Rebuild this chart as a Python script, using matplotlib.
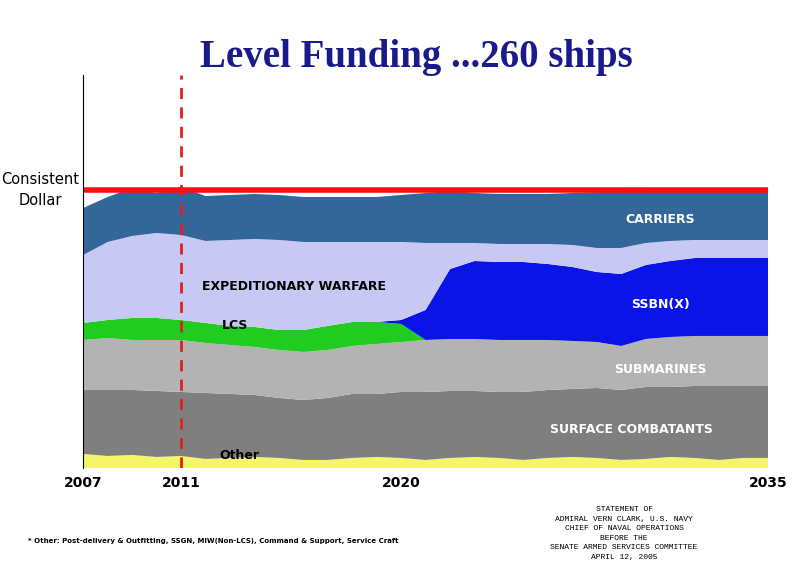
import matplotlib
matplotlib.use("Agg")
import matplotlib.pyplot as plt
import numpy as np

years = list(range(2007, 2036))
other = [14,12,13,11,12,9,10,11,10,8,8,10,11,10,8,10,11,10,8,10,11,10,8,9,11,10,8,10,10]
surface = [64,66,65,66,64,66,64,62,60,60,62,64,63,66,68,67,66,66,68,68,68,70,70,72,70,72,74,72,72]
submarines = [50,52,50,51,52,50,49,48,48,48,48,48,50,50,52,52,52,52,52,50,48,46,44,48,50,50,50,50,50]
lcs = [17,18,22,22,20,20,19,20,20,22,24,24,22,18,0,0,0,0,0,0,0,0,0,0,0,0,0,0,0]
ssbn = [0,0,0,0,0,0,0,0,0,0,0,0,0,4,30,70,78,78,78,76,74,70,72,74,76,78,78,78,78]
expeditionary = [68,78,82,85,85,82,86,88,90,88,84,80,80,78,67,26,18,18,18,20,22,24,26,22,20,18,18,18,18]
carriers = [47,45,48,40,48,45,45,45,45,45,45,45,45,47,50,52,50,50,50,50,52,56,60,55,52,50,50,50,52]
level = 278
tick_years = [2007, 2011, 2020, 2035]

fig = plt.figure(figsize=(8, 5.77), dpi=100)
ax = fig.add_axes([0.104, 0.189, 0.856, 0.681])
colors = ["#f5f56a", "#7f7f7f", "#b3b3b3", "#1fcc1f", "#0a14e6", "#c8c8f5", "#336699"]
ax.stackplot(years, other, surface, submarines, lcs, ssbn, expeditionary, carriers,
             colors=colors, linewidth=0)
ax.plot([years[0], years[-1]], [level, level], color="#ff1010", lw=4)
ax.axvline(2011, color="#e02020", ls=(0, (4, 3)), lw=2)
ax.set_xlim(2007, 2035)
ax.set_ylim(0, 393)
for s in ["top", "right"]:
    ax.spines[s].set_visible(False)
ax.spines["bottom"].set_visible(False)
ax.set_yticks([])
ax.set_xticks(tick_years)
ax.set_xticklabels([str(y) for y in tick_years], fontweight="bold", fontsize=10)
ax.tick_params(axis="x", length=0, pad=6)

wk = dict(color="white", fontweight="bold", fontsize=9, ha="center", va="center")
ax.text(2030.6, 248, "CARRIERS", **wk)
ax.text(2030.6, 163, "SSBN(X)", **wk)
ax.text(2030.6, 98, "SUBMARINES", **wk)
ax.text(2029.4, 38, "SURFACE COMBATANTS", **wk)
bk = dict(color="black", fontweight="bold", fontsize=9, ha="center", va="center")
ax.text(2015.6, 181, "EXPEDITIONARY WARFARE", **bk)
ax.text(2013.2, 142, "LCS", **bk)
ax.text(2013.4, 12, "Other", **bk)

fig.text(0.52, 0.9, "Level Funding ...260 ships", ha="center", va="center",
         family="Liberation Serif", fontweight="bold", fontsize=28, color="#1a1a8c")
fig.text(0.05, 0.67, "Consistent\nDollar", ha="center", va="center", fontsize=10.5, linespacing=1.5)
fig.text(0.035, 0.063, "* Other: Post-delivery & Outfitting, SSGN, MIW(Non-LCS), Command & Support, Service Craft",
         fontsize=5, fontweight="bold", va="center")
fig.text(0.78, 0.075, "STATEMENT OF\nADMIRAL VERN CLARK, U.S. NAVY\nCHIEF OF NAVAL OPERATIONS\nBEFORE THE\nSENATE ARMED SERVICES COMMITTEE\nAPRIL 12, 2005",
         ha="center", va="center", family="Liberation Mono", fontsize=5.8, linespacing=1.5)
fig.savefig("out.png", dpi=100)
